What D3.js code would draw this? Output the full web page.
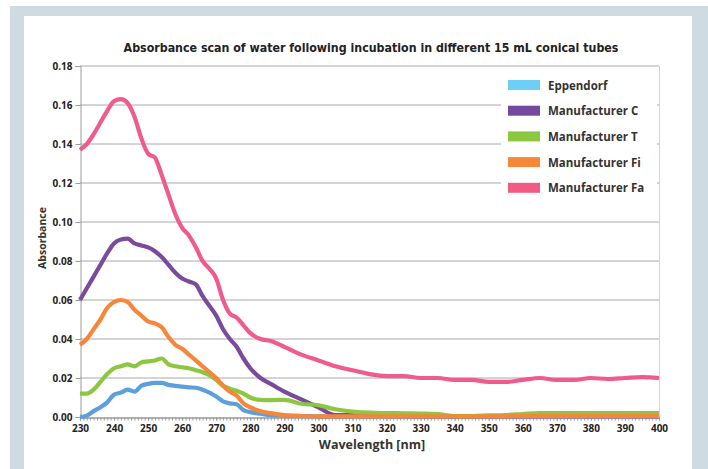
<!DOCTYPE html>
<html>
<head>
<meta charset="utf-8">
<script src="https://cdn.jsdelivr.net/npm/d3@7"></script>
<style>
  body { margin: 0; background: #fff; }
  .axis text { font-family: "Open Sans", sans-serif; font-weight: bold; fill: #222; }
</style>
</head>
<body>
<div id="chart"></div>
<script>

var wavelengths = [230,232,234,236,238,240,242,244,246,248,250,252,254,256,258,260,262,264,266,268,270,272,274,276,278,280,283,286,290,295,300,305,310,315,320,325,330,335,340,345,350,355,360,365,370,375,380,385,390,395,400];

var eppendorf = [0.000,0.0007,0.003,0.005,0.0075,0.0115,0.0125,0.014,0.013,0.016,0.017,0.0175,0.0175,0.0165,0.016,0.0156,0.0152,0.015,0.014,0.0125,0.0105,0.008,0.007,0.0065,0.0035,0.0025,0.0017,0.001,0.0007,0.0005,0.0003,0.0002,0.0002,0.0002,0.0002,0.0002,0.0002,0.0002,0.0002,0.0002,0.0002,0.0002,0.0002,0.0002,0.0002,0.0002,0.0002,0.0002,0.0002,0.0002,0.0002];

var manufC = [0.060,0.066,0.072,0.078,0.084,0.089,0.091,0.0915,0.089,0.088,0.087,0.085,0.082,0.078,0.074,0.071,0.0695,0.068,0.062,0.057,0.052,0.045,0.040,0.036,0.030,0.025,0.020,0.017,0.013,0.009,0.005,0.001,0.001,0.0008,0.0008,0.0006,0.0005,0.0005,0.0005,0.0005,0.0005,0.0005,0.0005,0.0005,0.0005,0.0005,0.0005,0.0005,0.0005,0.0005,0.0005];

var manufT = [0.012,0.012,0.014,0.018,0.022,0.025,0.026,0.027,0.026,0.028,0.0285,0.029,0.030,0.027,0.026,0.0255,0.025,0.024,0.023,0.0215,0.019,0.016,0.0145,0.0135,0.012,0.010,0.0088,0.0087,0.0088,0.0068,0.006,0.004,0.0028,0.0022,0.002,0.0019,0.0018,0.0015,0.0005,0.0005,0.0008,0.001,0.0015,0.002,0.002,0.002,0.002,0.002,0.002,0.002,0.002];

var manufFi = [0.037,0.040,0.045,0.050,0.056,0.059,0.060,0.059,0.055,0.052,0.049,0.048,0.046,0.041,0.037,0.035,0.032,0.029,0.026,0.023,0.020,0.016,0.013,0.011,0.007,0.005,0.003,0.002,0.001,0.0005,0.0003,0.0003,0.0003,0.0003,0.0003,0.0003,0.0003,0.0003,0.0003,0.0003,0.0003,0.0003,0.0005,0.0005,0.0005,0.0005,0.0005,0.0005,0.0005,0.0005,0.0005];

var manufFa = [0.137,0.140,0.145,0.151,0.157,0.162,0.163,0.161,0.154,0.143,0.135,0.133,0.124,0.114,0.104,0.097,0.093,0.087,0.080,0.076,0.071,0.060,0.053,0.051,0.047,0.043,0.040,0.039,0.036,0.032,0.029,0.026,0.024,0.022,0.021,0.021,0.020,0.020,0.019,0.019,0.018,0.018,0.019,0.020,0.019,0.019,0.020,0.0195,0.020,0.0205,0.020];

var seriesNames = ["Eppendorf","Manufacturer C","Manufacturer T","Manufacturer Fi","Manufacturer Fa"];
var seriesValues = [eppendorf, manufC, manufT, manufFi, manufFa];
var lineColors = ["#5b9fdc","#7a4a9c","#8dc63f","#f5863a","#ef5b8c"];
var swatchColors = ["#6dcff6","#744a9e","#8dc63f","#f7883a","#f05a83"];

var yTicks = [0,0.02,0.04,0.06,0.08,0.10,0.12,0.14,0.16,0.18];
var xTicks = d3.range(230, 401, 10);

var width = 708, height = 469;
var plot = {left:80, right:659, top:66, bottom:417};

var svg = d3.select("#chart").append("svg")
    .attr("width", width).attr("height", height);

// frame
svg.append("rect").attr("x",10).attr("y",6).attr("width",width-10).attr("height",height-6).attr("fill","#cfdbe3");
svg.append("rect").attr("x",24).attr("y",16).attr("width",668).attr("height",height-16).attr("fill","#fff");

var x = d3.scaleLinear().domain([230,400]).range([plot.left, plot.right]);
var y = d3.scaleLinear().domain([0,0.18]).range([plot.bottom, plot.top]);

// gridlines
svg.append("g").selectAll("line")
    .data(yTicks.slice(1))
    .enter().append("line")
    .attr("x1", plot.left).attr("x2", plot.right)
    .attr("y1", function(d){ return y(d); }).attr("y2", function(d){ return y(d); })
    .attr("stroke", "#a8a8a8").attr("stroke-width", 1);

// legend box covers the grid
svg.append("rect").attr("x",501).attr("y",plot.top+0.5).attr("width",156).attr("height",140).attr("fill","#fff");

svg.append("line").attr("x1",plot.left).attr("x2",plot.right).attr("y1",plot.top+0.5).attr("y2",plot.top+0.5).attr("stroke","#d4d4d4");
svg.append("line").attr("x1",plot.right+0.5).attr("x2",plot.right+0.5).attr("y1",plot.top).attr("y2",plot.bottom).attr("stroke","#d4d4d4");

// axes
var yAxis = svg.append("g").attr("class","axis")
    .attr("transform","translate("+(plot.left+0.5)+",0)")
    .call(d3.axisLeft(y).tickValues(yTicks).tickFormat(d3.format(".2f")).tickSize(5).tickPadding(3));
yAxis.selectAll("text").style("font-size","10px");

var xMinor = svg.append("g").attr("class","axis")
    .attr("transform","translate(0,"+(plot.bottom+0.5)+")")
    .call(d3.axisBottom(x).tickValues(d3.range(230,401,1)).tickFormat("").tickSize(3));

var xAxis = svg.append("g").attr("class","axis")
    .attr("transform","translate(0,"+(plot.bottom+0.5)+")")
    .call(d3.axisBottom(x).tickValues(xTicks).tickSize(3).tickPadding(4));
xAxis.selectAll("text").style("font-size","10px");

svg.selectAll(".axis path, .axis line").attr("stroke","#9a9a9a");

// series lines
var line = d3.line()
    .x(function(d){ return x(d[0]); })
    .y(function(d){ return y(d[1]); })
    .curve(d3.curveMonotoneX);

seriesValues.forEach(function(vals, i) {
  svg.append("path")
     .datum(wavelengths.map(function(w, j){ return [w, vals[j]]; }))
     .attr("d", line)
     .attr("fill","none")
     .attr("stroke", lineColors[i])
     .attr("stroke-width", 4.2)
     .attr("stroke-linejoin","round");
});

// legend
var legend = svg.append("g").attr("transform","translate(508,80)");
var items = legend.selectAll("g").data(seriesNames).enter().append("g")
    .attr("transform", function(d,i){ return "translate(0,"+(i*25.7)+")"; });
items.append("rect").attr("width",32).attr("height",10).attr("fill", function(d,i){ return swatchColors[i]; });
items.append("text").attr("x",40).attr("y",5).attr("dominant-baseline","central")
    .style("font-family","'Open Sans', sans-serif").style("font-weight","bold").style("font-size","11.5px")
    .attr("fill","#333").text(function(d){ return d; });

// titles
svg.append("text").attr("x",371).attr("y",52).attr("text-anchor","middle")
    .style("font-family","'DejaVu Sans Condensed', 'DejaVu Sans', sans-serif").style("font-stretch","condensed")
    .style("font-weight","bold").style("font-size","12.3px").attr("fill","#222")
    .text("Absorbance scan of water following incubation in different 15 mL conical tubes");

svg.append("text").attr("x",372).attr("y",449).attr("text-anchor","middle")
    .style("font-family","'Open Sans', sans-serif").style("font-weight","bold").style("font-size","12.5px").attr("fill","#333")
    .text("Wavelength [nm]");

svg.append("text").attr("transform","translate(46,238) rotate(-90)").attr("text-anchor","middle")
    .style("font-family","'Open Sans', sans-serif").style("font-weight","bold").style("font-size","10.5px").attr("fill","#333")
    .text("Absorbance");

</script>
</body>
</html>
